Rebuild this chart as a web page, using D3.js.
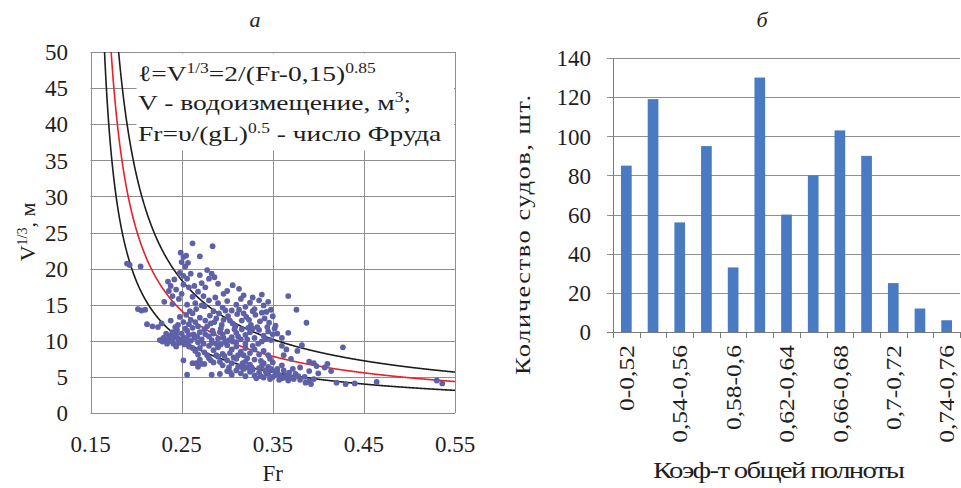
<!DOCTYPE html>
<html>
<head>
<meta charset="utf-8">
<script src="https://cdn.jsdelivr.net/npm/d3@7/dist/d3.min.js"></script>
<style>
  html, body { margin: 0; padding: 0; background: #fff; }
  svg { display: block; }
  svg text { font-family: "Liberation Serif", "Times New Roman", "DejaVu Serif", serif !important; fill: #1e1e1e; }
</style>
</head>
<body>
<svg id="chart" width="961" height="488" font-family="Liberation Serif, Times New Roman, serif"></svg>
<script>
// ---- Panel "а": V^(1/3) against Froude number ----
const frTicks = [0.15, 0.25, 0.35, 0.45, 0.55];
const frTickLabels = ["0.15", "0.25", "0.35", "0.45", "0.55"];
const lenTicks = [0, 5, 10, 15, 20, 25, 30, 35, 40, 45, 50];

// fitted curve ℓ = 2/(Fr-0.15)^0.85 and its upper / lower envelopes
const fitCoef = 2, fitShift = 0.15, fitPower = 0.85;
const envelopeFactors = [0.72, 1.3];

// ships: [Fr, V^(1/3) in m]
const ships = [
  [0.262,23.5],[0.284,23.1],[0.270,21.7],
  [0.190,20.7],[0.193,20.5],[0.205,20.3],[0.202,14.4],[0.206,14.2],[0.210,14.3],[0.212,12.3],[0.218,12.0],[0.224,11.9],[0.228,12.4],
  [0.249,22.2],[0.252,21.6],[0.255,21.8],[0.250,20.9],[0.254,20.3],[0.257,20.8],[0.248,19.4],[0.252,19.0],[0.256,18.6],[0.260,19.3],
  [0.235,18.2],[0.238,17.6],[0.242,18.5],[0.236,16.9],[0.244,17.1],[0.240,16.2],[0.247,15.8],[0.250,16.5],[0.252,17.8],[0.258,17.4],
  [0.262,16.1],[0.265,15.2],[0.268,16.8],[0.272,18.0],[0.276,17.4],[0.280,18.6],[0.283,19.3],[0.286,18.8],[0.278,19.8],[0.270,19.1],
  [0.266,14.4],[0.272,14.9],[0.262,13.8],[0.240,15.1],[0.231,15.4],[0.256,15.0],[0.259,14.1],[0.264,17.6],[0.274,16.2],[0.290,17.9],
  [0.226,10.1],[0.230,10.4],[0.232,10.2],[0.236,10.4],[0.240,10.1],[0.243,10.6],[0.246,10.3],[0.249,10.0],[0.252,10.5],[0.255,10.2],
  [0.258,10.8],[0.236,9.9],[0.241,9.6],[0.247,9.7],[0.253,9.5],[0.260,10.0],[0.264,10.4],[0.268,9.8],[0.272,10.2],[0.240,11.2],
  [0.245,11.5],[0.250,11.0],[0.256,11.4],[0.262,11.8],[0.258,12.3],[0.252,12.6],[0.246,12.2],[0.265,12.6],[0.270,11.2],[0.275,11.6],
  [0.233,11.0],[0.238,12.8],[0.248,13.3],[0.255,13.6],[0.244,9.2],[0.262,9.0],[0.234,9.6],
  [0.229,9.9],[0.238,10.7],[0.244,10.9],[0.251,9.8],[0.257,9.9],[0.263,10.9],[0.267,10.6],[0.243,11.9],[0.254,11.7],[0.26,12.9],
  [0.290,15.2],[0.295,14.6],[0.300,15.5],[0.305,14.2],[0.310,15.0],[0.315,15.8],[0.320,14.7],[0.325,15.3],[0.330,14.4],[0.335,15.6],
  [0.340,14.9],[0.345,15.4],[0.318,16.3],[0.328,16.0],[0.306,17.7],[0.313,17.2],[0.296,16.5],[0.287,16.0],[0.280,15.6],[0.275,14.8],
  [0.285,14.1],[0.300,16.9],[0.338,16.4],[0.348,14.3],
  [0.270,13.2],[0.276,12.8],[0.281,13.5],[0.286,12.6],[0.291,13.8],[0.296,12.9],[0.301,13.4],[0.306,12.4],[0.311,13.7],[0.316,12.8],
  [0.321,13.3],[0.326,12.2],[0.331,13.6],[0.336,12.7],[0.341,13.1],[0.346,12.5],[0.350,13.4],[0.353,12.1],[0.343,14.0],[0.333,11.9],
  [0.323,11.8],[0.308,11.6],[0.293,11.7],[0.278,12.0],[0.284,11.4],[0.298,14.2],[0.313,14.3],[0.328,14.1],[0.268,12.0],
  [0.280,10.6],[0.285,11.0],[0.290,10.3],[0.295,10.9],[0.300,11.3],[0.305,10.5],[0.310,11.1],[0.315,10.2],[0.320,10.8],[0.325,11.2],
  [0.330,10.4],[0.335,11.5],[0.340,10.7],[0.345,11.3],[0.350,10.9],[0.355,11.0],[0.348,10.1],[0.338,9.9],[0.276,10.9],[0.288,9.6],
  [0.298,9.8],[0.367,11.1],[0.360,10.4],
  [0.282,12.4],[0.288,13.1],[0.294,12.2],[0.303,12.8],[0.309,12.0],[0.318,13.8],[0.324,12.9],[0.338,13.9],[0.344,11.9],[0.352,11.7],
  [0.283,10.1],[0.292,11.2],[0.302,10.1],[0.312,10.6],[0.322,10.2],[0.328,11.7],[0.342,10.2],[0.316,11.6],[0.296,10.4],[0.306,9.9],
  [0.270,9.0],[0.275,8.4],[0.280,9.3],[0.285,8.7],[0.290,9.1],[0.295,8.2],[0.300,9.4],[0.305,8.8],[0.310,9.2],[0.315,8.5],
  [0.320,9.0],[0.325,8.3],[0.330,8.8],[0.335,8.1],[0.265,8.6],[0.258,9.2],[0.310,9.8],[0.320,9.6],[0.340,8.6],[0.345,8.0],
  [0.278,8.0],[0.288,8.0],[0.274,9.6],[0.283,9.7],[0.293,9.5],[0.303,8.3],[0.318,8.0],[0.328,9.3],[0.334,9.6],[0.268,8.1],
  [0.270,7.4],[0.275,6.8],[0.280,7.6],[0.285,7.0],[0.290,7.8],[0.295,6.6],[0.300,7.3],[0.305,6.9],[0.310,7.5],[0.315,6.4],
  [0.320,7.1],[0.325,6.7],[0.330,7.4],[0.335,6.2],[0.340,6.9],[0.345,6.4],[0.350,7.0],[0.355,6.1],[0.360,6.6],[0.268,6.4],
  [0.262,6.9],[0.266,6.9],[0.272,6.8],[0.252,7.3],[0.297,7.9],[0.312,8.0],[0.282,7.3],[0.292,7.1],[0.307,7.7],[0.322,7.6],
  [0.337,7.2],[0.347,7.5],[0.302,6.3],[0.317,6.9],[0.327,6.3],
  [0.300,5.8],[0.305,5.3],[0.310,5.9],[0.315,5.5],[0.320,5.1],[0.325,5.7],[0.330,5.2],[0.335,5.6],[0.340,4.9],[0.345,5.4],
  [0.350,5.0],[0.355,5.6],[0.360,4.8],[0.365,5.2],[0.370,4.9],[0.375,5.4],[0.380,4.6],[0.385,5.0],[0.390,4.4],[0.395,4.7],
  [0.386,4.2],[0.392,4.0],[0.342,5.9],[0.352,5.8],[0.328,6.0],[0.318,6.1],[0.362,5.9],[0.372,6.1],[0.380,6.3],[0.390,5.8],
  [0.400,5.5],[0.398,6.5],[0.332,4.8],[0.347,4.7],[0.357,4.6],[0.367,4.5],[0.322,6.3],[0.312,6.4],
  [0.337,5.1],[0.343,5.5],[0.353,5.3],[0.358,5.2],[0.363,4.9],[0.368,5.6],[0.373,4.7],[0.378,5.1],[0.338,6.5],[0.348,6.1],
  [0.256,5.3],[0.283,5.3],[0.303,5.7],[0.292,5.4],
  [0.367,16.2],[0.376,14.3],[0.387,12.5],[0.427,9.1],[0.382,9.4],[0.377,8.6],[0.365,8.8],[0.360,9.3],[0.407,6.3],[0.414,5.8],
  [0.420,4.2],[0.430,4.0],[0.440,4.1],[0.464,4.3],[0.530,4.5],[0.536,4.1],[0.410,6.8],[0.390,7.1],[0.395,6.9],[0.370,7.5],[0.362,8.0]
];

// ---- Panel "б": number of ships by block coefficient ----
const blockRanges = ["0-0,52","0,52-0,54","0,54-0,56","0,56-0,58","0,58-0,6","0,6-0,62","0,62-0,64",
                     "0,64-0,66","0,66-0,68","0,68-0,7","0,7-0,72","0,72-0,74","0,74-0,76"];
const shipCounts = [85, 119, 56, 95, 33, 130, 60, 80, 103, 90, 25, 12, 6];
const countTicks = [0, 20, 40, 60, 80, 100, 120, 140];

const svg = d3.select("#chart");
const gridColor = "#8f8f8f";
const tickFont = 23;
const titleFont = 22;
const legendFont = 22;
const supFont = 14;
const glyphStretch = 1.25;   // horizontal widening of the serif face

// text widened horizontally, remaining width taken up by letter spacing
function wideText(parent, x, y, angle, str, width, size, stretch) {
  const g = parent.append("g")
    .attr("transform", `translate(${x},${y}) rotate(${angle}) scale(${stretch},1)`);
  return g.append("text").attr("text-anchor", "middle").attr("font-size", size)
    .attr("textLength", width / stretch).attr("lengthAdjust", "spacing")
    .text(str);
}

// ================= Panel а =================
const xA = d3.scaleLinear().domain([0.15, 0.55]).range([90.5, 455]);
const yA = d3.scaleLinear().domain([0, 50]).range([413, 52]);

const gA = svg.append("g");

// horizontal gridlines
gA.selectAll("line.hgrid").data(lenTicks).join("line")
  .attr("x1", xA(0.15)).attr("x2", xA(0.55))
  .attr("y1", d => Math.round(yA(d)) + 0.5).attr("y2", d => Math.round(yA(d)) + 0.5)
  .attr("stroke", gridColor).attr("stroke-width", 1);
// vertical gridlines
gA.selectAll("line.vgrid").data(frTicks).join("line")
  .attr("x1", d => Math.round(xA(d)) + 0.5).attr("x2", d => Math.round(xA(d)) + 0.5)
  .attr("y1", yA(0)).attr("y2", yA(50))
  .attr("stroke", gridColor).attr("stroke-width", 1);

// formula box
gA.append("rect")
  .attr("x", 136.5).attr("y", yA(50) + 1.5)
  .attr("width", xA(0.55) - 137.5).attr("height", 97)
  .attr("fill", "#fff");

// clip for curves
svg.append("defs").append("clipPath").attr("id", "clipA")
  .append("rect").attr("x", xA(0.15)).attr("y", yA(50))
  .attr("width", xA(0.55) - xA(0.15)).attr("height", yA(0) - yA(50));

const frSamples = d3.range(0.1605, 0.5501, 0.0005);
const curve = k => frSamples.map(f => [f, k * fitCoef / Math.pow(f - fitShift, fitPower)]);
const lineA = d3.line().x(d => xA(d[0])).y(d => yA(Math.min(d[1], 80)));

const curvesG = gA.append("g").attr("clip-path", "url(#clipA)");
envelopeFactors.forEach(k => {
  curvesG.append("path").datum(curve(k)).attr("d", lineA)
    .attr("fill", "none").attr("stroke", "#1d1d1d").attr("stroke-width", 1.6);
});
curvesG.append("path").datum(curve(1)).attr("d", lineA)
  .attr("fill", "none").attr("stroke", "#e8202a").attr("stroke-width", 1.6);

// ships
gA.append("g").selectAll("circle").data(ships).join("circle")
  .attr("cx", d => xA(d[0])).attr("cy", d => yA(d[1]))
  .attr("r", 2.9).attr("fill", "#5f61a8");

// axis tick labels
gA.selectAll("text.ylab").data(lenTicks).join("text")
  .attr("x", 68).attr("y", d => yA(d)).attr("dy", "0.36em")
  .attr("text-anchor", "end").attr("font-size", tickFont)
  .text(d => d);
gA.selectAll("text.xlab").data(frTicks).join("text")
  .attr("x", d => xA(d)).attr("y", 452)
  .attr("text-anchor", "middle").attr("font-size", tickFont)
  .text((d, i) => frTickLabels[i]);

// axis titles
gA.append("text").attr("x", (xA(0.15) + xA(0.55)) / 2).attr("y", 481)
  .attr("text-anchor", "middle").attr("font-size", 23).text("Fr");
const yTitleA = gA.append("text")
  .attr("transform", "translate(35,232) rotate(-90)")
  .attr("text-anchor", "middle").attr("font-size", 22);
yTitleA.append("tspan").text("V");
yTitleA.append("tspan").attr("font-size", supFont).attr("dy", -8).text("1/3");
yTitleA.append("tspan").attr("dy", 8).text(", м");

// formula text, widened from its left edge; runs flow one after another,
// superscript runs are flagged with true
const fx = 138;
const legendG = gA.append("g")
  .attr("transform", `translate(${fx},0) scale(${glyphStretch},1) translate(${-fx},0)`);
function formulaLine(y, runs) {
  const t = legendG.append("text").attr("x", fx).attr("y", y).attr("font-size", legendFont);
  let raised = false;
  runs.forEach(([s, sup]) => {
    const ts = t.append("tspan").text(s);
    if (sup && !raised) ts.attr("dy", -8);
    if (!sup && raised) ts.attr("dy", 8);
    if (sup) ts.attr("font-size", supFont);
    raised = !!sup;
  });
}
formulaLine(81, [["ℓ=V"], ["1/3", true], ["=2/(Fr-0,15)"], ["0.85", true]]);
formulaLine(110, [["V - водоизмещение, м"], ["3", true], [";"]]);
formulaLine(141, [["Fr=υ/(gL)"], ["0.5", true], [" - число Фруда"]]);

// panel letter
svg.append("text").attr("x", 255).attr("y", 27).attr("text-anchor", "middle")
  .attr("font-size", 22).attr("font-style", "italic").text("а");

// ================= Panel б =================
const xB = d3.scaleBand().domain(blockRanges).range([613, 960])
  .paddingInner(0.6).paddingOuter(0.3);
const yB = d3.scaleLinear().domain([0, 140]).range([332, 58]);

const gB = svg.append("g");

gB.selectAll("line.hgrid").data(countTicks).join("line")
  .attr("x1", 607).attr("x2", 960)
  .attr("y1", d => Math.round(yB(d)) + 0.5).attr("y2", d => Math.round(yB(d)) + 0.5)
  .attr("stroke", d => d === 0 ? "#7a7a7a" : gridColor).attr("stroke-width", 1);
gB.append("line")
  .attr("x1", 613.5).attr("x2", 613.5).attr("y1", yB(140)).attr("y2", yB(0))
  .attr("stroke", "#7a7a7a");

// category boundary ticks
const step = xB.step();
const bandStart = xB(blockRanges[0]) - (step - xB.bandwidth()) / 2;
gB.selectAll("line.xtick").data(d3.range(blockRanges.length + 1)).join("line")
  .attr("x1", i => Math.round(bandStart + i * step) + 0.5)
  .attr("x2", i => Math.round(bandStart + i * step) + 0.5)
  .attr("y1", yB(0)).attr("y2", yB(0) + 6)
  .attr("stroke", "#7a7a7a");

gB.selectAll("rect.bar").data(shipCounts).join("rect")
  .attr("x", (d, i) => xB(blockRanges[i]))
  .attr("y", d => yB(d))
  .attr("width", xB.bandwidth())
  .attr("height", d => yB(0) - yB(d))
  .attr("fill", "#4a7bc2");

gB.selectAll("text.ylab").data(countTicks).join("text")
  .attr("x", 591).attr("y", d => yB(d)).attr("dy", "0.36em")
  .attr("text-anchor", "end").attr("font-size", tickFont)
  .text(d => d);

gB.selectAll("text.xlab").data(blockRanges.filter((d, i) => i % 2 === 0)).join("text")
  .attr("transform", d => `translate(${xB(d) + xB.bandwidth() / 2},345) rotate(-90) scale(1.16,1)`)
  .attr("dy", "0.35em").attr("text-anchor", "end").attr("font-size", 22)
  .text(d => d);

wideText(gB, 779, 478, 0, "Коэф-т общей полноты", 252, titleFont + 1, 1.25);
wideText(gB, 530, 235, -90, "Количество судов, шт.", 280, titleFont, 1.2);

svg.append("text").attr("x", 762).attr("y", 27).attr("text-anchor", "middle")
  .attr("font-size", 22).attr("font-style", "italic").text("б");
</script>
</body>
</html>
